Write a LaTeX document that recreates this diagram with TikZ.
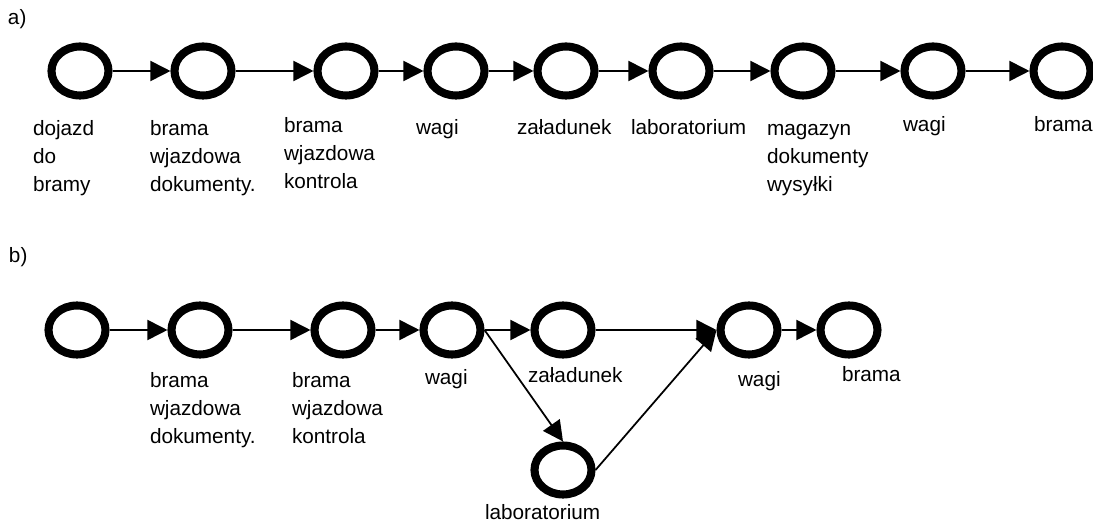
\documentclass[tikz,border=0pt]{standalone}
\usepackage{fontspec}
\setmainfont{Liberation Sans}
\usetikzlibrary{shapes.geometric,arrows.meta}
\begin{document}
\begin{tikzpicture}[x=0.02cm, y=-0.02cm,
	every node/.style={inner sep=0pt, outer sep=0},
	stan/.style={draw, ellipse, line width=4.6pt, minimum width=1.14cm, minimum height=0.98cm, outer sep=2.3pt},
	opis/.style={anchor=base west, align=left, font=\fontsize{11.8}{16.2}\selectfont},
	krok/.style={line width=1pt, -{Triangle[length=11.5pt, width=11.5pt]}}]
	\useasboundingbox (0,0) rectangle (1093,523);

	% a) - przebieg liniowy
	\node[opis] (ta) at (8,25) {a)};
	\foreach \x [count=\i] in {80,203,346,456,566,681,803,933,1062}{
		\node[stan] (a\i) at (\x,71) {};
	}
	\foreach \i [remember=\i as \p (initially 1)] in {2,...,9}{
		\draw[krok] (a\p) -- (a\i);
	}
	% base = ostatnia linia opisu
	\node[opis] (la1) at (33,192) {dojazd\\do\\bramy};
	\node[opis] (la2) at (150,192) {brama\\wjazdowa\\dokumenty.};
	\node[opis] (la3) at (284,189) {brama\\wjazdowa\\kontrola};
	\node[opis] (la4) at (416,135) {wagi};
	\node[opis] (la5) at (517,135) {załadunek};
	\node[opis] (la6) at (631,135) {laboratorium};
	\node[opis] (la7) at (767,192) {magazyn\\dokumenty\\wysyłki};
	\node[opis] (la8) at (903,132) {wagi};
	\node[opis] (la9) at (1034,132) {brama};

	% b) - laboratorium rownolegle z zaladunkiem
	\node[opis] (tb) at (9,263) {b)};
	\foreach \x [count=\i] in {77,200,343,452,563,749,849}{
		\node[stan] (b\i) at (\x,330) {};
	}
	\node[stan] (bl) at (563,470) {};
	\foreach \i [remember=\i as \p (initially 1)] in {2,...,7}{
		\draw[krok] (b\p) -- (b\i);
	}
	\draw[krok] (b4.east) -- (bl.north);
	\draw[krok] (bl.east) -- (b6.west);
	\node[opis] (lb2) at (150,444) {brama\\wjazdowa\\dokumenty.};
	\node[opis] (lb3) at (292,444) {brama\\wjazdowa\\kontrola};
	\node[opis] (lb4) at (425,385) {wagi};
	\node[opis] (lb5) at (528,383) {załadunek};
	\node[opis] (lb6) at (738,387) {wagi};
	\node[opis] (lb7) at (842,382) {brama};
	\node[opis] (lbl) at (485,520) {laboratorium};
\end{tikzpicture}
\end{document}
